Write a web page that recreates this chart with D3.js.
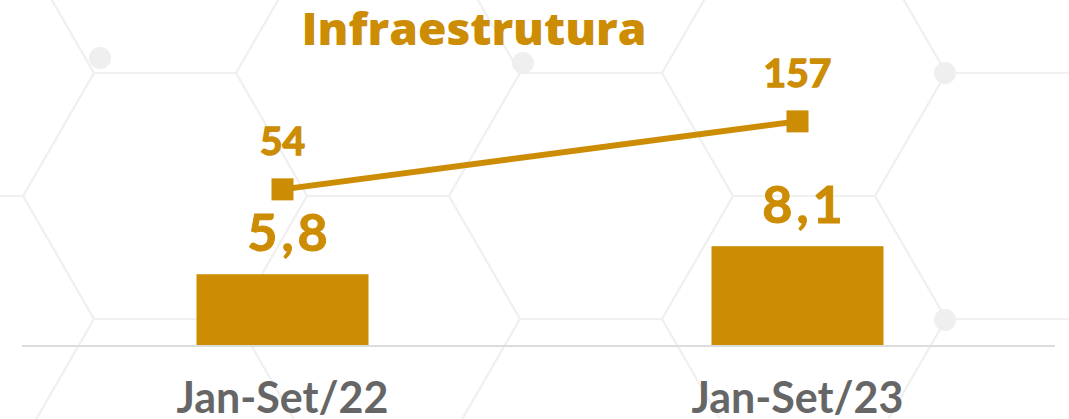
<!DOCTYPE html>
<html>
<head>
<meta charset="utf-8">
<script src="https://cdn.jsdelivr.net/npm/d3@7"></script>
<style>
  html, body { margin: 0; padding: 0; background: #fff; }
  svg { display: block; }
</style>
</head>
<body>
<div id="chart"></div>
<script>
// dados
const periods = ['Jan-Set/22', 'Jan-Set/23'];
const barValues = [5.8, 8.1];      // barras
const lineValues = [54, 157];      // linha
const title = 'Infraestrutura';

const gold = '#cc8c04';
const W = 1069, H = 419;

const svg = d3.select('#chart').append('svg')
    .attr('width', W)
    .attr('height', H);

// fundo com hexágonos (decorativo)
const bg = svg.append('g').attr('class', 'bg');
const r = 142, hh = Math.sqrt(3) * r / 2;
const hexPts = (cx, cy) => d3.range(6).map(k => {
    const a = Math.PI / 3 * k;
    return [cx + r * Math.cos(a), cy + r * Math.sin(a)];
});
for (let c = -4; c <= 2; c++) {
    for (let row = -1; row <= 2; row++) {
        const cx = 804 + c * 1.5 * r;
        const cy = 73 + (Math.abs(c) % 2 ? hh : 0) + row * 2 * hh;
        bg.append('path')
            .attr('d', d3.line()(hexPts(cx, cy)) + 'Z')
            .attr('fill', 'none')
            .attr('stroke', '#f0f0f0')
            .attr('stroke-width', 2);
    }
}
[[100, 58], [523, 63], [945, 73], [945, 320]].forEach(p => {
    bg.append('circle').attr('cx', p[0]).attr('cy', p[1]).attr('r', 11).attr('fill', '#efefef');
});

// escalas
const x = d3.scaleBand()
    .domain(periods)
    .range([25, 1055])
    .paddingInner(0.666)
    .paddingOuter(0.333);

const yBar = d3.scaleLinear().domain([0, 10]).range([345, 223]);
const yLine = d3.scaleLinear().domain([0, 200]).range([225, 93]);

// barras
svg.selectAll('rect.bar')
    .data(barValues)
    .join('rect')
    .attr('class', 'bar')
    .attr('x', (d, i) => x(periods[i]))
    .attr('y', d => yBar(d))
    .attr('width', x.bandwidth())
    .attr('height', d => yBar(0) - yBar(d))
    .attr('fill', gold);

// linha de base
svg.append('line')
    .attr('x1', 22).attr('x2', 1055)
    .attr('y1', yBar(0) + 1).attr('y2', yBar(0) + 1)
    .attr('stroke', '#dcdcdc')
    .attr('stroke-width', 2);

// rótulos das barras
svg.selectAll('text.barlabel')
    .data(barValues)
    .join('text')
    .attr('class', 'barlabel')
    .attr('x', (d, i) => x(periods[i]) + x.bandwidth() / 2 + 7)
    .attr('y', d => yBar(d) - 23)
    .attr('text-anchor', 'middle')
    .attr('font-family', 'Lato, sans-serif')
    .attr('font-weight', 700)
    .attr('font-size', 52)
    .attr('letter-spacing', 4)
    .attr('fill', gold)
    .attr('stroke', gold)
    .attr('stroke-width', 1)
    .text(d => d.toFixed(1).replace('.', ','));

// linha
const cx = (d, i) => x(periods[i]) + x.bandwidth() / 2;
svg.append('path')
    .datum(lineValues)
    .attr('d', d3.line().x(cx).y(d => yLine(d)))
    .attr('fill', 'none')
    .attr('stroke', gold)
    .attr('stroke-width', 6);

svg.selectAll('rect.marker')
    .data(lineValues)
    .join('rect')
    .attr('class', 'marker')
    .attr('x', (d, i) => cx(d, i) - 11)
    .attr('y', d => yLine(d) - 11)
    .attr('width', 22)
    .attr('height', 22)
    .attr('fill', gold);

svg.selectAll('text.linelabel')
    .data(lineValues)
    .join('text')
    .attr('class', 'linelabel')
    .attr('x', cx)
    .attr('y', d => yLine(d) - 34)
    .attr('text-anchor', 'middle')
    .attr('font-family', 'Lato, sans-serif')
    .attr('font-weight', 700)
    .attr('font-size', 39)
    .attr('fill', gold)
    .attr('stroke', gold)
    .attr('stroke-width', 1.4)
    .text(d => d);

// eixo x
const xAxis = svg.append('g')
    .attr('transform', `translate(0,${yBar(0)})`)
    .call(d3.axisBottom(x).tickSize(0).tickPadding(0));
xAxis.select('.domain').remove();
xAxis.selectAll('text')
    .attr('dy', 0)
    .attr('y', 68)
    .attr('font-family', 'Lato, sans-serif')
    .attr('font-weight', 700)
    .attr('font-size', 43)
    .attr('fill', '#666');

// título
svg.append('text')
    .attr('x', 474)
    .attr('y', 45)
    .attr('text-anchor', 'middle')
    .attr('font-family', '"Open Sans", sans-serif')
    .attr('font-weight', 800)
    .attr('font-size', 45)
    .attr('textLength', 345)
    .attr('lengthAdjust', 'spacingAndGlyphs')
    .attr('fill', gold)
    .text(title);
</script>
</body>
</html>
